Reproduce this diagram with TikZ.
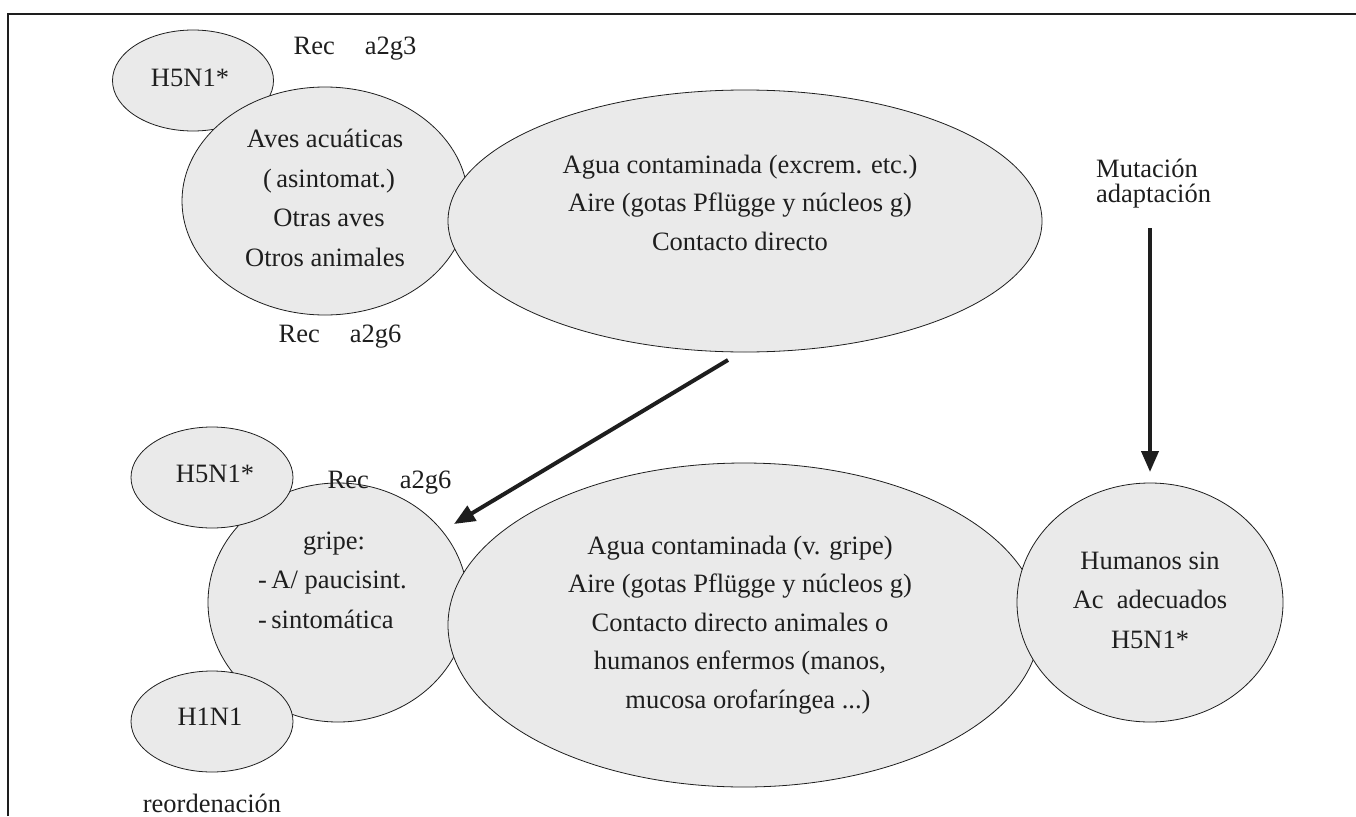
\documentclass[tikz,border=0pt]{standalone}
\usepackage{fontspec}
\setmainfont{Liberation Serif}
\usetikzlibrary{shapes.geometric,arrows.meta}
\definecolor{bubblefill}{HTML}{EAEAEA}
\definecolor{ink}{HTML}{1E1E1E}
\begin{document}
\begin{tikzpicture}[x=1pt,y=-1pt,
  bubble/.style={ellipse, draw=ink, fill=bubblefill, line width=0.8pt, inner sep=0pt},
  txt/.style={text=ink, font=\fontsize{26.5}{38.5}\selectfont, align=center, inner sep=0pt, anchor=base},
  wide/.style={font=\fontsize{26.5}{39.5}\selectfont},
  tight/.style={font=\fontsize{26.5}{25}\selectfont},
  flow/.style={line width=4pt, draw=ink, -{Triangle[length=21pt,width=17pt]}}]
\useasboundingbox (0,0) rectangle (1356,816);
% open frame: left and top sides
\draw[ink, line width=1.4pt] (8,816) -- (8,14) -- (1356,14);

% avian reservoir
\node[bubble, minimum width=161pt, minimum height=101pt] (h5top) at (193,80.5) {};
\node[bubble, minimum width=286pt, minimum height=228pt] (aves) at (325,201) {};
\node[bubble, minimum width=594pt, minimum height=262pt] (agua1) at (745,221) {};

% infected hosts and transmission to humans
\node[bubble, minimum width=260pt, minimum height=239pt] (gripe) at (338,602.5) {};
\node[bubble, minimum width=162pt, minimum height=101pt] (h5bot) at (212,477.5) {};
\node[bubble, minimum width=162pt, minimum height=101pt] (h1n1) at (212,721.5) {};
\node[bubble, minimum width=592pt, minimum height=324pt] (agua2) at (744,625) {};
\node[bubble, minimum width=266pt, minimum height=239pt] (humanos) at (1150,602.5) {};

% labels (multi-line labels sit on the baseline of their last line)
\node[txt] (l-h5top) at (190,86) {H5N1*};
\node[txt] (l-rec1) at (355,55) {Rec\hspace{30pt}a2g3};
\node[txt, wide] (l-aves) at (325,266) {Aves acuáticas\\\hspace*{8pt}(\,asintomat.)\\\hspace*{8pt}Otras aves\\Otros animales};
\node[txt] (l-rec2) at (340,342) {Rec\hspace{30pt}a2g6};
\node[txt] (l-agua1) at (740,250) {Agua contaminada (excrem. etc.)\\Aire (gotas Pflügge y núcleos g)\\Contacto directo};
\node[txt, tight, align=left, anchor=base west] (l-mut) at (1096,202) {Mutación\\adaptación};

\node[txt] (l-h5bot) at (215,482) {H5N1*};
\node[txt] (l-rec3) at (389.5,488) {Rec\hspace{31pt}a2g6};
\node[txt, wide, align=left, anchor=base west] (l-gripe) at (258,628) {\hspace*{45pt}gripe:\\-\,A/ paucisint.\\-\,sintomática};
\node[txt] (l-h1n1) at (210,725) {H1N1};
\node[txt] (l-reord) at (212,812) {reordenación};
\node[txt] (l-agua2) at (740,708) {Agua contaminada (v. gripe)\\Aire (gotas Pflügge y núcleos g)\\Contacto directo animales o\\humanos enfermos (manos,\\\hspace*{16pt}mucosa orofaríngea ...)};
\node[txt, wide] (l-hum) at (1150,648) {Humanos sin\\Ac\enspace adecuados\\H5N1*};

% arrows
\coordinate (d-from) at (728,360);
\coordinate (d-to) at (454,524);
\draw[flow] (d-from) -- (d-to);
\coordinate (m-from) at (1150,228);
\coordinate (m-to) at (1150,472);
\draw[flow] (m-from) -- (m-to);
\end{tikzpicture}
\end{document}
